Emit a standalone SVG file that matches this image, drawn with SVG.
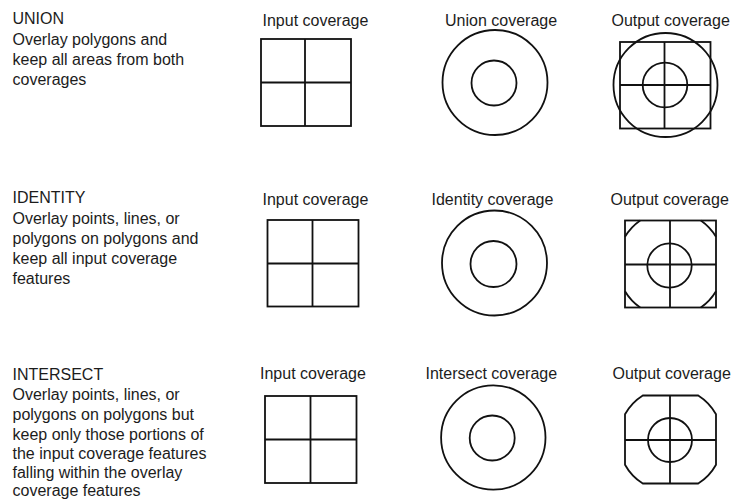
<svg xmlns="http://www.w3.org/2000/svg" width="734" height="500" viewBox="0 0 734 500">
<style>
text{font-family:"Liberation Sans",Arial,sans-serif;font-size:16px;fill:#1c1c1c}
.s{fill:none;stroke:#111;stroke-width:1.8}
</style>
<rect width="734" height="500" fill="#fff"/>
<g id="desc-union">
<text x="12.5" y="24">UNION</text>
<text x="12.5" y="44.5">Overlay polygons and</text>
<text x="12.5" y="65">keep all areas from both</text>
<text x="12.5" y="85">coverages</text>
</g>
<g id="desc-identity">
<text x="12.5" y="203">IDENTITY</text>
<text x="12.5" y="223.5">Overlay points, lines, or</text>
<text x="12.5" y="244">polygons on polygons and</text>
<text x="12.5" y="264">keep all input coverage</text>
<text x="12.5" y="283.5">features</text>
</g>
<g id="desc-intersect">
<text x="12.5" y="379.5">INTERSECT</text>
<text x="12.5" y="399.5">Overlay points, lines, or</text>
<text x="12.5" y="419.5">polygons on polygons but</text>
<text x="12.5" y="439.5">keep only those portions of</text>
<text x="12.5" y="459">the input coverage features</text>
<text x="12.5" y="478">falling within the overlay</text>
<text x="12.5" y="496">coverage features</text>
</g>
<g id="union-input">
<text x="262.5" y="25.5">Input coverage</text>
<rect class="s" x="261" y="39" width="90" height="87"/>
<path class="s" d="M305 39V126M261 82.5H351"/>
</g>
<g id="union-overlay">
<text x="445" y="25.5">Union coverage</text>
<circle class="s" cx="495" cy="82.5" r="52.5"/>
<circle class="s" cx="494" cy="83" r="22.5"/>
</g>
<g id="union-output">
<text x="611.5" y="25.5">Output coverage</text>
<rect class="s" x="620" y="42" width="90.5" height="86.5"/>
<circle class="s" cx="665.5" cy="85" r="52"/>
<path class="s" d="M664.5 42V128.5M620 85H710.5"/>
<circle class="s" cx="665" cy="85" r="22.3"/>
</g>
<g id="identity-input">
<text x="262.5" y="204.5">Input coverage</text>
<rect class="s" x="267.5" y="220" width="91" height="86.5"/>
<path class="s" d="M312.5 220V306.5M267.5 263.5H358.5"/>
</g>
<g id="identity-overlay">
<text x="431.5" y="204.5">Identity coverage</text>
<circle class="s" cx="494.5" cy="263" r="52.5"/>
<circle class="s" cx="493.5" cy="264" r="23"/>
</g>
<g id="identity-output">
<text x="610.5" y="204.5">Output coverage</text>
<rect class="s" x="625" y="220.5" width="91" height="87"/>
<path class="s" d="M625 236.8A53 53 0 0 1 640.2 220.5M700.8 220.5A53 53 0 0 1 716 236.8M716 291.2A53 53 0 0 1 700.8 307.5M640.2 307.5A53 53 0 0 1 625 291.2"/>
<path class="s" d="M670 220.5V307.5M625 264.5H716"/>
<circle class="s" cx="669.5" cy="265.5" r="22.2"/>
</g>
<g id="intersect-input">
<text x="260" y="379">Input coverage</text>
<rect class="s" x="265" y="396" width="91.5" height="87"/>
<path class="s" d="M310.5 396V483M265 439.5H356.5"/>
</g>
<g id="intersect-overlay">
<text x="425.5" y="379">Intersect coverage</text>
<circle class="s" cx="493.3" cy="437.5" r="52.2"/>
<circle class="s" cx="492.2" cy="438" r="22.5"/>
</g>
<g id="intersect-output">
<text x="612.5" y="379">Output coverage</text>
<path class="s" d="M642.8 395.5L698.2 395.5A52 52 0 0 1 716 414.3L716 464.7A52 52 0 0 1 698.2 483.5L642.8 483.5A52 52 0 0 1 625 464.7L625 414.3A52 52 0 0 1 642.8 395.5Z"/>
<path class="s" d="M670 395.5V483.5M625 440H716"/>
<circle class="s" cx="670" cy="440" r="22"/>
</g>
<g id="connectors"></g>
</svg>
